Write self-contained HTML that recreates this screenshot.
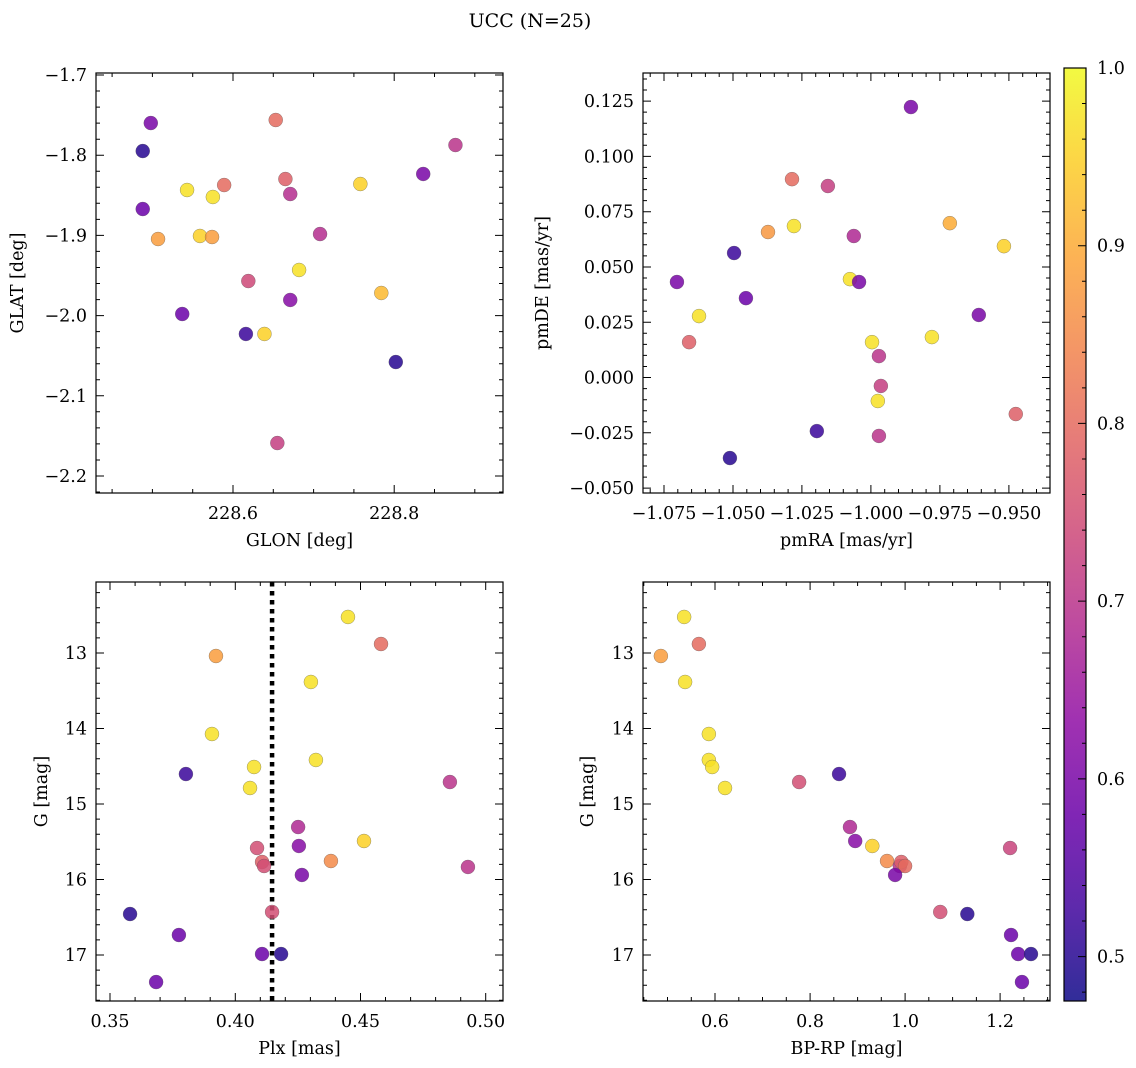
<!DOCTYPE html>
<html><head><meta charset="utf-8">
<style>
html,body{margin:0;padding:0;background:#fff;}
svg{display:block;font-family:"DejaVu Serif","Liberation Serif",serif;}
</style></head>
<body>
<svg id="fig" width="1136" height="1068" viewBox="0 0 1136 1068">
<text x="530" y="27" text-anchor="middle" font-size="19">UCC (N=25)</text>
</svg>
<script>
// ---- data ----
const glon = [228.498,228.488,228.488,228.507,228.543,228.559,228.575,228.574,228.589,228.537,228.619,228.616,228.639,228.653,228.665,228.671,228.671,228.655,228.682,228.708,228.758,228.784,228.802,228.836,228.876];
const glat = [-1.7599,-1.7948,-1.8671,-1.9045,-1.8434,-1.9007,-1.8521,-1.9020,-1.8372,-1.9980,-1.9569,-2.0229,-2.0229,-1.7561,-1.8297,-1.8484,-1.9805,-2.1589,-1.9431,-1.8983,-1.8359,-1.9718,-2.0579,-1.8234,-1.7873];
const prob1 = [0.60,0.50,0.58,0.88,0.97,0.95,0.97,0.88,0.80,0.58,0.74,0.52,0.95,0.80,0.78,0.69,0.62,0.72,0.97,0.69,0.95,0.92,0.50,0.60,0.70];

const pmra = [-1.0703,-1.0623,-1.0659,-1.0496,-1.0453,-1.0511,-1.0373,-1.0286,-1.0279,-1.0196,-1.0156,-1.0076,-1.0062,-1.0043,-0.9996,-0.9975,-0.9971,-0.9964,-0.9971,-0.9855,-0.9779,-0.9714,-0.9609,-0.9518,-0.9475];
const pmde = [0.0432,0.0278,0.0160,0.0563,0.0359,-0.0364,0.0658,0.0897,0.0685,-0.0242,0.0866,0.0445,0.0640,0.0432,0.0160,-0.0106,0.0097,-0.0038,-0.0264,0.1223,0.0183,0.0698,0.0283,0.0594,-0.0165];
const prob2 = [0.60,0.97,0.78,0.52,0.58,0.50,0.87,0.80,0.97,0.52,0.72,0.97,0.68,0.60,0.97,0.97,0.70,0.72,0.70,0.60,0.97,0.90,0.60,0.95,0.78];

const plx = [0.4450,0.4582,0.3923,0.4302,0.3907,0.3803,0.4075,0.4322,0.4059,0.4857,0.4251,0.4087,0.4254,0.4514,0.4107,0.4115,0.4382,0.4929,0.4266,0.3580,0.4147,0.3775,0.4107,0.4183,0.3684];
const gmag3 = [12.523,12.881,13.040,13.384,14.073,14.603,14.510,14.417,14.788,14.709,15.305,15.583,15.556,15.490,15.768,15.821,15.755,15.834,15.940,16.457,16.430,16.735,16.987,16.987,17.358];
const prob3 = [0.97,0.80,0.88,0.97,0.97,0.52,0.97,0.97,0.97,0.70,0.68,0.75,0.62,0.95,0.78,0.75,0.85,0.70,0.60,0.50,0.75,0.58,0.58,0.50,0.58];
const plxLine = [0.4147];

const bprp = [0.535,0.486,0.566,0.537,0.587,0.587,0.594,0.621,0.777,0.861,0.884,0.895,0.931,0.962,0.989,0.992,1.000,1.221,0.979,1.074,1.131,1.223,1.238,1.265,1.246];
const gmag4 = [12.523,13.040,12.881,13.384,14.073,14.417,14.510,14.788,14.709,14.603,15.305,15.490,15.556,15.755,15.821,15.768,15.821,15.583,15.940,16.430,16.457,16.735,16.987,16.987,17.358];
const prob4 = [0.97,0.88,0.80,0.97,0.97,0.97,0.97,0.97,0.75,0.52,0.68,0.62,0.95,0.85,0.70,0.78,0.80,0.73,0.60,0.75,0.50,0.58,0.58,0.50,0.58];

const cbTicks = [0.5,0.6,0.7,0.8,0.9,1.0];

// ---- helpers ----
const NS = "http://www.w3.org/2000/svg";
const svg = document.getElementById('fig');
function mk(tag, attrs, parent){ const e=document.createElementNS(NS,tag); for(const k in attrs) e.setAttribute(k,attrs[k]); (parent||svg).appendChild(e); return e; }
const stops=[[0,[13,8,135]],[0.1,[65,4,157]],[0.2,[106,0,168]],[0.3,[143,13,164]],[0.4,[177,42,144]],[0.5,[204,71,120]],[0.6,[225,100,98]],[0.7,[242,132,75]],[0.8,[252,166,54]],[0.9,[252,206,37]],[1,[240,249,33]]];
function plasma(t){ t=Math.max(0,Math.min(1,t)); for(let i=1;i<stops.length;i++){ if(t<=stops[i][0]){ const a=stops[i-1],b=stops[i]; const f=(t-a[0])/(b[0]-a[0]); const c=a[1].map((v,j)=>Math.round(v+(b[1][j]-v)*f)); return `rgb(${c[0]},${c[1]},${c[2]})`; } } return 'rgb(240,249,33)'; }
const CMIN=0.475, CMAX=1.0;
function pcol(p){ return plasma((p-CMIN)/(CMAX-CMIN)); }
function fmt(v,d){ const s=Math.abs(v).toFixed(d); return (v<-1e-9?'\u2212':'')+s; }
const FS=17.5;

function panel(o){
  const g=mk('g',{});
  
  
  const sx=v=>o.px0+(v-o.xd[0])/(o.xd[1]-o.xd[0])*(o.px1-o.px0);
  const sy=v=>o.py0+(v-o.yd[0])/(o.yd[1]-o.yd[0])*(o.py1-o.py0);
  const minorX=[],minorY=[];
  for(let v=Math.ceil(Math.min(...o.xd)/o.xm-1e-6)*o.xm; v<=Math.max(...o.xd)+1e-9; v+=o.xm) minorX.push(v);
  for(let v=Math.ceil(Math.min(...o.yd)/o.ym-1e-6)*o.ym; v<=Math.max(...o.yd)+1e-9; v+=o.ym) minorY.push(v);
  let d='';
  minorX.forEach(v=>{const x=sx(v).toFixed(1); d+=`M${x},${o.py1}v-4M${x},${o.py0}v4`;});
  minorY.forEach(v=>{const y=sy(v).toFixed(1); d+=`M${o.px0},${y}h4M${o.px1},${y}h-4`;});
  o.xt.forEach(v=>{const x=sx(v).toFixed(1); d+=`M${x},${o.py1}v-8M${x},${o.py0}v8`;});
  o.yt.forEach(v=>{const y=sy(v).toFixed(1); d+=`M${o.px0},${y}h8M${o.px1},${y}h-8`;});
  const tk=mk('path',{d:d,stroke:'#000','stroke-width':1,fill:'none'},g);
  
  
  o.xt.forEach(v=>{ const t=mk('text',{x:sx(v),y:o.py1+26,'text-anchor':'middle','font-size':FS},g); t.textContent=fmt(v,o.xdp);
      });
  o.yt.forEach(v=>{ const t=mk('text',{x:o.px0-9,y:sy(v)+6,'text-anchor':'end','font-size':FS},g); t.textContent=fmt(v,o.ydp);
      });
  const xl=mk('text',{x:(o.px0+o.px1)/2,y:o.py1+53,'text-anchor':'middle','font-size':FS},g); xl.textContent=o.xlab;
   
  const yl=mk('text',{x:0,y:0,'text-anchor':'middle','font-size':FS,transform:`translate(${o.ylx},${(o.py0+o.py1)/2}) rotate(-90)`},g); yl.textContent=o.ylab;
   
  if(o.vline){ o.vline.forEach(v=>{ const l=mk('line',{x1:sx(v),x2:sx(v),y1:o.py0,y2:o.py1,stroke:'#000','stroke-width':4.5,'stroke-dasharray':'4.5,4.5'},g);
      }); }
  o.x.forEach((xv,i)=>{ const c=mk('circle',{cx:sx(xv),cy:sy(o.y[i]),r:7,fill:pcol(o.c[i]),'fill-opacity':0.85,stroke:'#555','stroke-opacity':0.6,'stroke-width':0.5},g);
      });
  const fr=mk('rect',{x:o.px0,y:o.py0,width:o.px1-o.px0,height:o.py1-o.py0,fill:'none',stroke:'#000','stroke-width':1.2},g);
   
}

panel({name:'glon-glat-panel',px0:96,px1:503,py0:73,py1:493,xd:[228.430,228.935],yd:[-1.6975,-2.2212],
  xt:[228.6,228.8],yt:[-1.7,-1.8,-1.9,-2.0,-2.1,-2.2],xm:0.05,ym:0.02,xdp:1,ydp:1,
  xlab:'GLON [deg]',ylab:'GLAT [deg]',ylx:23,x:glon,y:glat,c:prob1});
panel({name:'pm-panel',px0:643,px1:1050,py0:73,py1:493,xd:[-1.0826,-0.9351],yd:[0.1377,-0.0522],
  xt:[-1.075,-1.05,-1.025,-1.0,-0.975,-0.95],yt:[0.125,0.1,0.075,0.05,0.025,0,-0.025,-0.05],xm:0.005,ym:0.005,xdp:3,ydp:3,
  xlab:'pmRA [mas/yr]',ylab:'pmDE [mas/yr]',ylx:548,x:pmra,y:pmde,c:prob2});
panel({name:'plx-g-panel',px0:96,px1:503,py0:582,py1:1001,xd:[0.3444,0.5069],yd:[12.060,17.609],
  xt:[0.35,0.40,0.45,0.50],yt:[13,14,15,16,17],xm:0.01,ym:0.2,xdp:2,ydp:0,
  xlab:'Plx [mas]',ylab:'G [mag]',ylx:47,x:plx,y:gmag3,c:prob3,vline:plxLine});
panel({name:'cmd-panel',px0:643,px1:1050,py0:582,py1:1001,xd:[0.4484,1.305],yd:[12.060,17.609],
  xt:[0.6,0.8,1.0,1.2],yt:[13,14,15,16,17],xm:0.05,ym:0.2,xdp:1,ydp:0,
  xlab:'BP-RP [mag]',ylab:'G [mag]',ylx:593,x:bprp,y:gmag4,c:prob4});

(function(){
  const x0=1064,x1=1086,y0=68,y1=1001;
  const g=mk('g',{});
  
  
  const defs=mk('defs',{},g);
  const lg=mk('linearGradient',{id:'cbg',x1:0,y1:1,x2:0,y2:0},defs);
  for(let i=0;i<=20;i++){ mk('stop',{offset:i/20,'stop-color':plasma(i/20),'stop-opacity':0.85},lg); }
  const r=mk('rect',{x:x0,y:y0,width:x1-x0,height:y1-y0,fill:'url(#cbg)',stroke:'#000','stroke-width':1.2},g);
   
  const sy=v=>y1-(v-CMIN)/(CMAX-CMIN)*(y1-y0);
  let d='';
  for(let v=0.48; v<=1.0001; v+=0.02){ d+=`M${x1},${sy(v).toFixed(1)}h-4`; }
  cbTicks.forEach(v=>{ d+=`M${x1},${sy(v).toFixed(1)}h-8`; });
  mk('path',{d:d,stroke:'#000','stroke-width':1,fill:'none'},g);
  cbTicks.forEach(v=>{ const t=mk('text',{x:x1+11,y:sy(v)+6,'font-size':FS},g); t.textContent=v.toFixed(1);
      });
})();
</script>
</body></html>
